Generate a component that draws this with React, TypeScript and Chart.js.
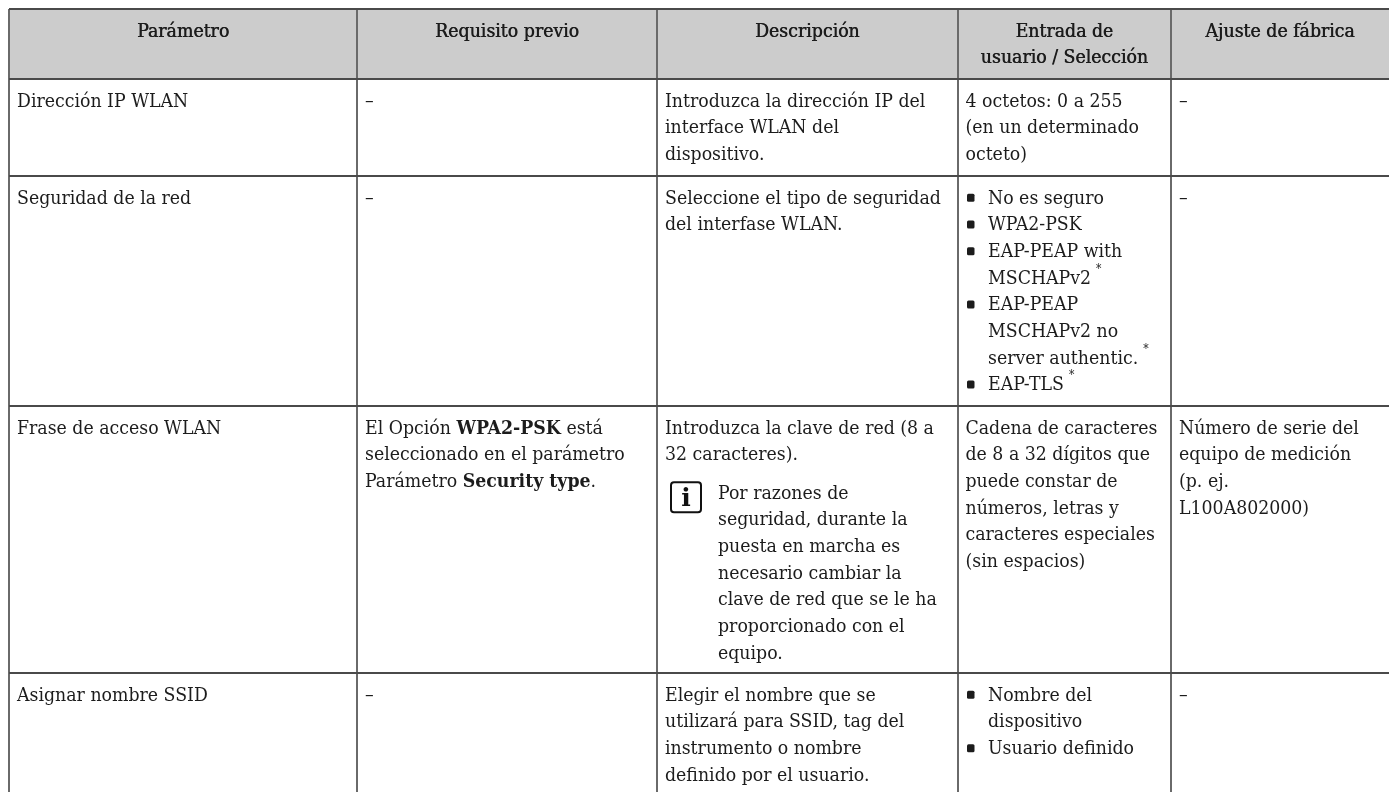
import React, { useEffect, useRef } from "react";
import { Chart, registerables } from "chart.js";

Chart.register(...registerables);

const columnEdges = [9, 357, 657, 957.5, 1171];
const rowEdges = [9, 79, 176, 406, 673];

const headers = [
  ["Parámetro"],
  ["Requisito previo"],
  ["Descripción"],
  ["Entrada de", "usuario / Selección"],
  ["Ajuste de fábrica"],
];

// Markup in the lines: "• " bullet, "  " bullet continuation, "^" footnote star, "**" bold, "@" note text
const row1 = [
  ["Dirección IP WLAN"],
  ["–"],
  ["Introduzca la dirección IP del", "interface WLAN del", "dispositivo."],
  ["4 octetos: 0 a 255", "(en un determinado", "octeto)"],
  ["–"],
];
const row2 = [
  ["Seguridad de la red"],
  ["–"],
  ["Seleccione el tipo de seguridad", "del interfase WLAN."],
  ["• No es seguro", "• WPA2-PSK", "• EAP-PEAP with", "  MSCHAPv2^", "• EAP-PEAP", "  MSCHAPv2 no", "  server authentic.^", "• EAP-TLS^"],
  ["–"],
];
const row3 = [
  ["Frase de acceso WLAN"],
  ["El Opción **WPA2-PSK** está", "seleccionado en el parámetro", "Parámetro **Security type**."],
  ["Introduzca la clave de red (8 a", "32 caracteres).", "@Por razones de", "@seguridad, durante la", "@puesta en marcha es", "@necesario cambiar la", "@clave de red que se le ha", "@proporcionado con el", "@equipo."],
  ["Cadena de caracteres", "de 8 a 32 dígitos que", "puede constar de", "números, letras y", "caracteres especiales", "(sin espacios)"],
  ["Número de serie del", "equipo de medición", "(p. ej.", "L100A802000)"],
];
const row4 = [
  ["Asignar nombre SSID"],
  ["–"],
  ["Elegir el nombre que se", "utilizará para SSID, tag del", "instrumento o nombre", "definido por el usuario."],
  ["• Nombre del", "  dispositivo", "• Usuario definido"],
  ["–"],
];
const bodyRows = [row1, row2, row3, row4];

const FONT = "'DejaVu Serif Condensed', 'DejaVu Serif'";
const SIZE = 19.3;
const PITCH = 26.67;
const FIRST = 27.8;
const INK = "#1c1c1c";

const tablePlugin = {
  id: "tableCells",
  beforeDraw(chart: any) {
    const { ctx, chartArea, scales } = chart;
    ctx.save();
    ctx.fillStyle = "#cccccc";
    const top = scales.y.getPixelForValue(rowEdges[0]);
    const bot = scales.y.getPixelForValue(rowEdges[1]);
    ctx.fillRect(chartArea.left, top, chartArea.right - chartArea.left, bot - top);
    ctx.restore();
  },
  afterDraw(chart: any) {
    const { ctx, scales } = chart;
    const X = (v: number) => scales.x.getPixelForValue(v);
    const Y = (v: number) => scales.y.getPixelForValue(v);
    ctx.save();
    ctx.textBaseline = "alphabetic";
    ctx.fillStyle = INK;

    headers.forEach((lines, c) => {
      const l = columnEdges[c];
      const r = c + 1 < columnEdges.length ? columnEdges[c + 1] : 1389;
      ctx.textAlign = "center";
      ctx.font = `${SIZE}px ${FONT}`;
      ctx.shadowColor = INK;
      ctx.shadowOffsetX = 0.5;
      lines.forEach((t, i) => ctx.fillText(t, X((l + r) / 2), Y(rowEdges[0] + FIRST + i * PITCH)));
      ctx.shadowColor = "transparent";
      ctx.shadowOffsetX = 0;
    });

    ctx.textAlign = "left";
    bodyRows.forEach((row, r) => {
      row.forEach((lines, c) => {
        const cellX = columnEdges[c] + 8;
        let noteGap = 0;
        lines.forEach((raw, i) => {
          let text = raw;
          let x = cellX;
          if (text.startsWith("@")) {
            text = text.slice(1);
            x = cellX + 53;
            if (!noteGap) {
              noteGap = 11.5;
              drawNoteIcon(ctx, X(cellX + 6), Y(rowEdges[r + 1] + FIRST + i * PITCH + noteGap - 16.5));
            }
          }
          const y = Y(rowEdges[r + 1] + FIRST + i * PITCH + noteGap);
          if (text.startsWith("• ")) {
            ctx.beginPath();
            ctx.roundRect(X(cellX + 1.5), y - 10, 7.5, 8, 1.5);
            ctx.fill();
            text = text.slice(2);
            x = cellX + 22.5;
          } else if (text.startsWith("  ")) {
            text = text.slice(2);
            x = cellX + 22.5;
          }
          const star = text.endsWith("^");
          if (star) text = text.slice(0, -1);
          let px = X(x);
          text.split("**").forEach((seg, k) => {
            ctx.font = `${k % 2 ? "bold " : ""}${SIZE}px ${FONT}`;
            ctx.fillText(seg, px, y);
            px += ctx.measureText(seg).width;
          });
          if (star) {
            ctx.font = `12px ${FONT}`;
            ctx.fillText("*", px + 5, y - 11);
          }
        });
      });
    });
    ctx.restore();
  },
};

function drawNoteIcon(ctx: any, x: number, y: number) {
  ctx.save();
  ctx.strokeStyle = "#111";
  ctx.lineWidth = 2;
  ctx.beginPath();
  ctx.roundRect(x, y, 30, 30, 3);
  ctx.stroke();
  ctx.fillStyle = "#111";
  ctx.font = `bold 25px 'DejaVu Serif'`;
  ctx.textAlign = "center";
  ctx.fillText("i", x + 15, y + 24);
  ctx.restore();
}

export default function App() {
  const ref = useRef<HTMLCanvasElement>(null);
  useEffect(() => {
    document.body.style.margin = "0";
    const chart = new Chart(ref.current as HTMLCanvasElement, {
      type: "scatter",
      data: { datasets: [{ data: [], pointRadius: 0 }] },
      plugins: [tablePlugin],
      options: {
        animation: false,
        responsive: false,
        layout: { padding: { left: 9, top: 9, right: 0, bottom: 0 } },
        plugins: { legend: { display: false }, title: { display: false }, tooltip: { enabled: false } },
        scales: {
          x: {
            type: "linear",
            min: 9,
            max: 1389,
            border: { display: false },
            ticks: { display: false },
            grid: { color: "#6a6a6a", lineWidth: 2, drawTicks: false },
            afterBuildTicks: (s: any) => {
              s.ticks = columnEdges.map((value) => ({ value }));
            },
          },
          y: {
            type: "linear",
            reverse: true,
            min: 9,
            max: 792,
            border: { display: false },
            ticks: { display: false },
            grid: { color: "#4a4a4a", lineWidth: 2, drawTicks: false },
            afterBuildTicks: (s: any) => {
              s.ticks = rowEdges.map((value) => ({ value }));
            },
          },
        },
      } as any,
    });
    return () => chart.destroy();
  }, []);
  return (
    <div style={{ position: "absolute", left: 0, top: 0, width: 1389, height: 792, overflow: "hidden", background: "#fff" }}>
      <canvas ref={ref} width={1389} height={792} style={{ display: "block" }} />
    </div>
  );
}
